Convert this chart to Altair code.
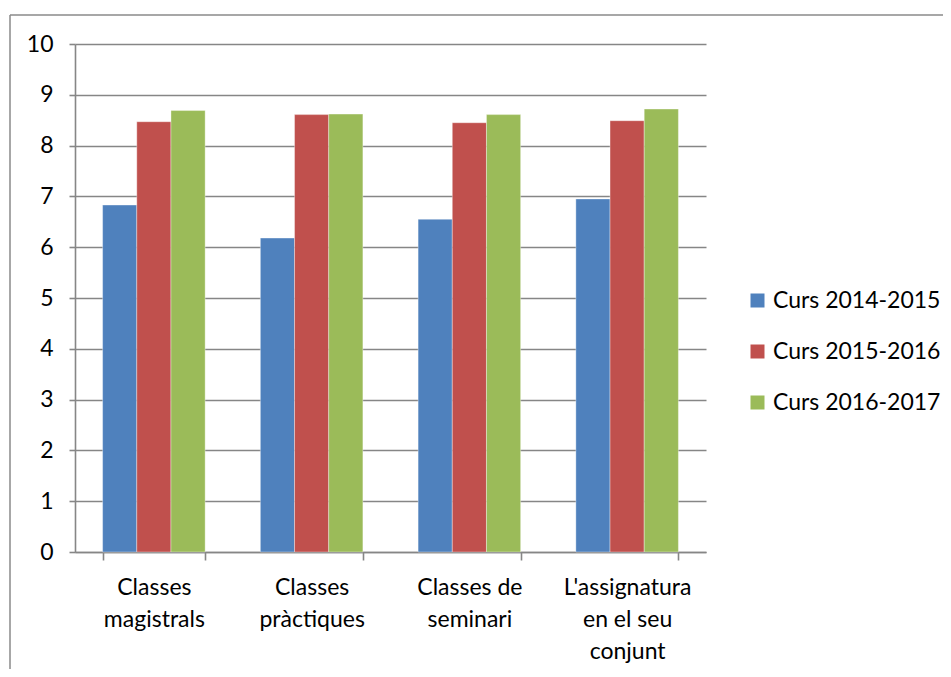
import altair as alt
import pandas as pd

categories = ["Classes magistrals", "Classes pràctiques", "Classes de seminari", "L'assignatura en el seu conjunt"]
cat_lines = [["Classes", "magistrals"], ["Classes", "pràctiques"], ["Classes de", "seminari"], ["L'assignatura", "en el seu", "conjunt"]]
series = ["Curs 2014-2015", "Curs 2015-2016", "Curs 2016-2017"]
v2014 = [6.83, 6.18, 6.55, 6.95]
v2015 = [8.47, 8.61, 8.45, 8.49]
v2016 = [8.69, 8.62, 8.61, 8.72]
colors = ["#4F81BD", "#C0504D", "#9BBB59"]
y_ticks = list(range(0, 11))

rows = []
for s, vals in zip(series, [v2014, v2015, v2016]):
    for c, v in zip(categories, vals):
        rows.append({"categoria": c, "curs": s, "valor": v})
df = pd.DataFrame(rows)

# label expression: split each category into its display lines
parts = []
for c, lines in zip(categories, cat_lines):
    arr = "[" + ",".join("'" + l.replace("'", "\\'") + "'" for l in lines) + "]"
    parts.append("datum.value === '" + c.replace("'", "\\'") + "' ? " + arr + " : ")
label_expr = "".join(parts) + "datum.label"

FONT = "Lato"
FS = 23
GRID = "#868686"

bars = alt.Chart(df).mark_bar(stroke="white", strokeWidth=0.6, strokeOpacity=0.6).encode(
    x=alt.X("categoria:N", sort=categories, title=None,
            scale=alt.Scale(paddingInner=0.35, paddingOuter=0.175),
            axis=alt.Axis(labelAngle=0, labelExpr=label_expr, labelLineHeight=32,
                          tickBand="extent", tickSize=8, labelPadding=16,
                          labelBaseline="top", domainColor=GRID, tickColor=GRID,
                          domainWidth=1.6, tickWidth=1.6, grid=False, labelLimit=0)),
    xOffset=alt.XOffset("curs:N", sort=series, scale=alt.Scale(paddingInner=0, paddingOuter=0)),
    y=alt.Y("valor:Q", title=None,
            scale=alt.Scale(domain=[0, 10], nice=False, zero=True),
            axis=alt.Axis(values=y_ticks, tickSize=6, labelPadding=16,
                          domainColor=GRID, tickColor=GRID, gridColor=GRID,
                          domainWidth=1.6, tickWidth=1.6, gridWidth=1.6)),
    color=alt.Color("curs:N", sort=series, title=None,
                    scale=alt.Scale(domain=series, range=colors),
                    legend=alt.Legend(orient="none", legendX=671, legendY=245,
                                      symbolType="square", symbolSize=196,
                                      symbolStrokeWidth=0, labelOffset=4,
                                      rowPadding=27, padding=0, labelLimit=400)),
)

frame = alt.Chart(pd.DataFrame({"k": [0]})).mark_rule(color="#8a8a8a", strokeWidth=1.5).encode(
    x=alt.value(-65), x2=alt.value(900), y=alt.value(-29)
)
frame_left = alt.Chart(pd.DataFrame({"k": [0]})).mark_rule(color="#8a8a8a", strokeWidth=1.5).encode(
    x=alt.value(-65), y=alt.value(-29), y2=alt.value(700)
)

chart = alt.layer(frame, frame_left, bars).properties(
    width=631, height=508,
    autosize=alt.AutoSizeParams(type="none"),
    padding={"left": 67, "top": 36, "right": 237, "bottom": 117},
).configure_view(stroke=None).configure_axis(
    labelFont=FONT, labelFontSize=FS, labelColor="#000000"
).configure_legend(
    labelFont=FONT, labelFontSize=FS, labelColor="#000000"
)

chart.save("out.html", embed_options={"renderer": "svg", "actions": False})
